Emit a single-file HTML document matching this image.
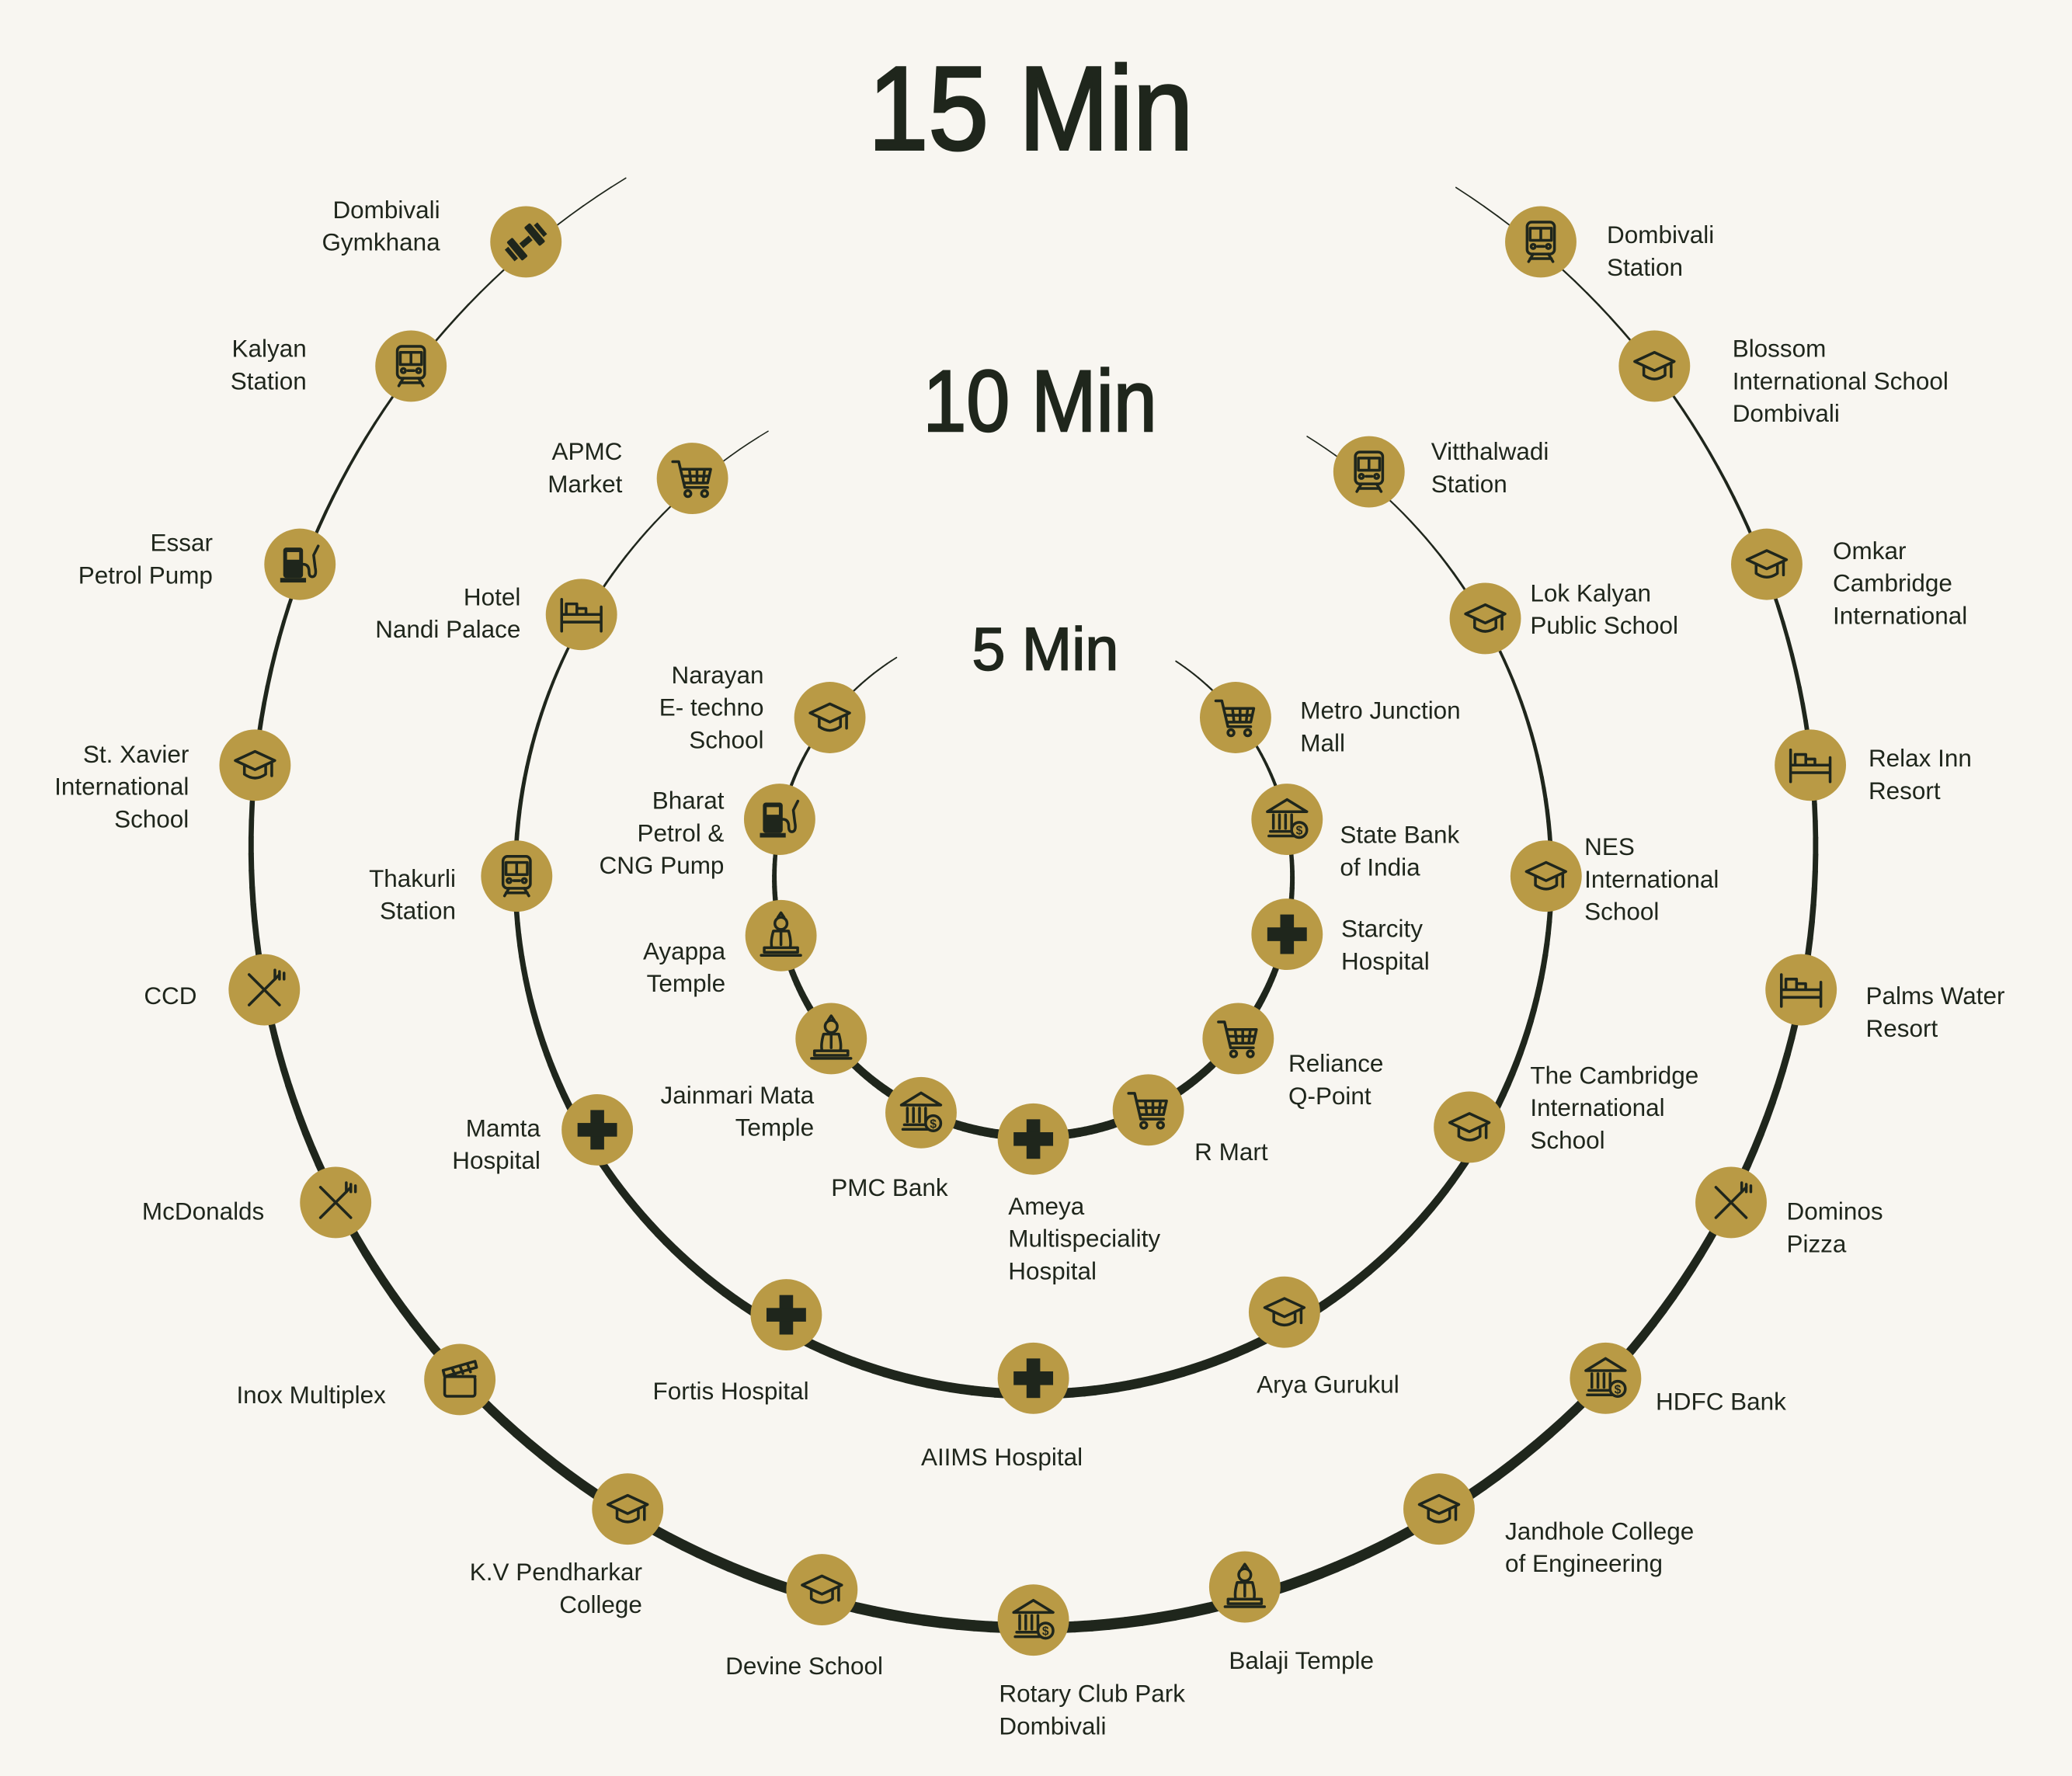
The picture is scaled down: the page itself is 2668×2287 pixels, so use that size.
<!DOCTYPE html>
<html><head><meta charset="utf-8">
<style>
html,body{margin:0;padding:0;background:#f8f6f1;}
svg{display:block;}
text{font-family:"Liberation Sans",sans-serif;fill:#1f261c;}
</style></head>
<body>
<svg id="s" xmlns="http://www.w3.org/2000/svg" width="2668" height="2287" viewBox="0 0 1568 1344">
<rect width="1568" height="1344" fill="#f8f6f1"/>
<g id="arcs"></g>
<g id="nodes"></g>
<g id="labels" font-size="18.5"></g>
<text x="780" y="113" font-size="90" stroke="#1f261c" stroke-width="2" text-anchor="middle" textLength="246" lengthAdjust="spacingAndGlyphs">15 Min</text>
<text x="787" y="326" font-size="66" stroke="#1f261c" stroke-width="1.5" text-anchor="middle" textLength="177" lengthAdjust="spacingAndGlyphs">10 Min</text>
<text x="791" y="507" font-size="46" stroke="#1f261c" stroke-width="1" text-anchor="middle" textLength="111" lengthAdjust="spacingAndGlyphs">5 Min</text>
</svg>
<script>
var NS="http://www.w3.org/2000/svg";
var D="#1f261c",G="#b99a45";
function el(t,a,p){var e=document.createElementNS(NS,t);for(var k in a)e.setAttribute(k,a[k]);(p||document.getElementById('s')).appendChild(e);return e;}
var arcs=document.getElementById('arcs');
function ring(cx,cy,r,a0,a1,wmin,wmax){
  var n=240;
  for(var i=0;i<n;i++){
    var t0=a0+(a1-a0)*i/n,t1=a0+(a1-a0)*(i+1)/n,tm=(t0+t1)/2;
    var f=(1+Math.sin(tm))/2; f=Math.pow(f,1.2);
    var w=wmin+(wmax-wmin)*f;
    el('line',{x1:cx+r*Math.cos(t0),y1:cy+r*Math.sin(t0),x2:cx+r*Math.cos(t1),y2:cy+r*Math.sin(t1),stroke:D,'stroke-width':w.toFixed(2),'stroke-linecap':'round'},arcs);
  }
}
var d2r=Math.PI/180;
ring(782,640,592,-57.3*d2r,238.6*d2r,0.6,8.5);
ring(782,663,392,-58.1*d2r,239.2*d2r,0.6,7.5);
ring(782,664,196,-56.6*d2r,238.1*d2r,0.8,7);

var nodesG=document.getElementById('nodes');
var S='fill="none" stroke="'+D+'" stroke-width="1.8" stroke-linejoin="round" stroke-linecap="round"';
var ICON={
cross:'<rect x="-4.5" y="-13" width="9" height="26" fill="'+D+'"/><rect x="-13" y="-4.5" width="26" height="9" fill="'+D+'"/>',
cart:'<path '+S+' d="M-13,-11 L-9,-11 L-5,6 L10,6 M-7,-6 L12,-6 L10,3 L-5,3 M-2,-6 L-1,3 M3,-6 L3,3 M8,-6 L7,3 M-6,-1.5 L11,-1.5"/><circle cx="-3" cy="10" r="2" '+S+'/><circle cx="8" cy="10" r="2" '+S+'/>',
cap:'<path '+S+' d="M-13,-3 L0,-9 L13,-3 L0,3 Z M-7,0 L-7,6 Q0,11 7,6 L7,0 M11,-2 L11,7"/>',
train:'<rect x="-9" y="-13" width="18" height="21" rx="3" '+S+'/><path '+S+' d="M-7,-9 L7,-9 L7,-1 L-7,-1 Z M0,-9 L0,-1 M-2,3 L2,3 M-8,13 L-5,8 M8,13 L5,8 M-7,11 L7,11"/><circle cx="-5" cy="3" r="1.4" '+S+'/><circle cx="5" cy="3" r="1.4" '+S+'/>',
bank:'<path '+S+' d="M-13,-5 L0,-13 L13,-5 Z M-12,11 L6,11 M-11,8 L5,8 M-9,-3 L-9,6 M-5,-3 L-5,6 M-1,-3 L-1,6 M3,-3 L3,6"/><circle cx="8" cy="7" r="5" fill="'+G+'" '+S+'/><text x="8" y="10" font-size="8" text-anchor="middle" font-weight="bold">$</text>',
bed:'<path '+S+' stroke-width="2.2" d="M-13,-10 L-13,11 M13,-5 L13,11 M-13,5 L13,5 M-13,0 L13,0 M-10,0 L-10,-7 L-3,-7 L-3,0 M-3,-4 L3,-4 L3,0"/>',
food:'<path '+S+' stroke-width="3" d="M-10,-10 L10,10 M10,-10 L-10,10"/><path '+S+' d="M7,-13 L7,-7 M10,-12 L10,-7 M13,-11 L13,-7"/>',
pump:'<rect x="-11" y="-11" width="13" height="20" rx="2" fill="'+D+'"/><rect x="-8.5" y="-8" width="8" height="5" fill="'+G+'"/><rect x="-13" y="9" width="17" height="3" fill="'+D+'"/><path '+S+' d="M2,0 Q6,0 6,5 Q6,9 9,8 Q11,7 10,2 L9,-6 L12,-12"/>',
temple:'<circle cx="0" cy="-8" r="4" '+S+'/><path '+S+' d="M-2,-12 L0,-15 L2,-12 M-5,-3 Q-7,4 -6,8 L6,8 Q7,4 5,-3 Z M-11,8 L11,8 L11,11 L-11,11 Z M-13,13 L13,13 M0,-3 L0,6"/>',
gym:'<g transform="rotate(-40)"><rect x="-4" y="-2" width="8" height="4" fill="'+D+'"/><rect x="-10" y="-8" width="5" height="16" rx="1" fill="'+D+'"/><rect x="5" y="-8" width="5" height="16" rx="1" fill="'+D+'"/><rect x="-14" y="-5" width="3" height="10" fill="'+D+'"/><rect x="11" y="-5" width="3" height="10" fill="'+D+'"/></g>',
clap:'<rect x="-10" y="-2" width="20" height="13" rx="1.5" '+S+'/><path '+S+' d="M-10,-2 L10,-2 M-11,-6 L10,-12 L11,-8 L-10,-2 Z M-5,-7 L-3,-3 M0,-9 L2,-4 M5,-10 L7,-5"/>'
};
var N=[
[398,183,'gym'],[311,277,'train'],[227,427,'pump'],[193,579,'cap'],[200,749,'food'],[254,910,'food'],[348,1044,'clap'],[475,1142,'cap'],[622,1203,'cap'],[782,1226,'bank'],[942,1201,'temple'],[1089,1142,'cap'],[1215,1043,'bank'],[1310,910,'food'],[1363,749,'bed'],[1370,579,'bed'],[1337,427,'cap'],[1252,277,'cap'],[1166,183,'train'],
[524,362,'cart'],[440,465,'bed'],[391,663,'train'],[452,855,'cross'],[595,995,'cross'],[782,1043,'cross'],[972,993,'cap'],[1112,853,'cap'],[1170,663,'cap'],[1124,468,'cap'],[1036,357,'train'],
[628,543,'cap'],[590,620,'pump'],[591,708,'temple'],[629,786,'temple'],[697,842,'bank'],[782,862,'cross'],[869,840,'cart'],[937,786,'cart'],[974,707,'cross'],[974,620,'bank'],[935,543,'cart']
];
var h='';
N.forEach(function(n){h+='<g transform="translate('+n[0]+','+n[1]+')"><circle r="27" fill="'+G+'"/><g transform="scale(1.15)">'+ICON[n[2]]+'</g></g>';});
nodesG.innerHTML=h;

var L=[
[333,165,'end',['Dombivali','Gymkhana']],
[232,270,'end',['Kalyan','Station']],
[161,417,'end',['Essar','Petrol Pump']],
[143,577,'end',['St. Xavier','International','School']],
[149,760,'end',['CCD']],
[200,923,'end',['McDonalds']],
[292,1062,'end',['Inox Multiplex']],
[486,1196,'end',['K.V Pendharkar','College']],
[549,1267,'start',['Devine School']],
[756,1288,'start',['Rotary Club Park','Dombivali']],
[930,1263,'start',['Balaji Temple']],
[1139,1165,'start',['Jandhole College','of Engineering']],
[1253,1067,'start',['HDFC Bank']],
[1352,923,'start',['Dominos','Pizza']],
[1412,760,'start',['Palms Water','Resort']],
[1414,580,'start',['Relax Inn','Resort']],
[1387,423,'start',['Omkar','Cambridge','International']],
[1311,270,'start',['Blossom','International School','Dombivali']],
[1216,184,'start',['Dombivali','Station']],
[471,348,'end',['APMC','Market']],
[394,458,'end',['Hotel','Nandi Palace']],
[345,671,'end',['Thakurli','Station']],
[409,860,'end',['Mamta','Hospital']],
[494,1059,'start',['Fortis Hospital']],
[697,1109,'start',['AIIMS Hospital']],
[951,1054,'start',['Arya Gurukul']],
[1158,820,'start',['The Cambridge','International','School']],
[1199,647,'start',['NES','International','School']],
[1158,455,'start',['Lok Kalyan','Public School']],
[1083,348,'start',['Vitthalwadi','Station']],
[578,517,'end',['Narayan','E- techno','School']],
[548,612,'end',['Bharat','Petrol &amp;','CNG Pump']],
[549,726,'end',['Ayappa','Temple']],
[616,835,'end',['Jainmari Mata','Temple']],
[629,905,'start',['PMC Bank']],
[763,919,'start',['Ameya','Multispeciality','Hospital']],
[904,878,'start',['R Mart']],
[975,811,'start',['Reliance','Q-Point']],
[1015,709,'start',['Starcity','Hospital']],
[1014,638,'start',['State Bank','of India']],
[984,544,'start',['Metro Junction','Mall']]
];
var t='';
L.forEach(function(l){l[3].forEach(function(s,i){t+='<text x="'+l[0]+'" y="'+(l[1]+i*24.6)+'" text-anchor="'+l[2]+'">'+s+'</text>';});});
document.getElementById('labels').innerHTML=t;
</script>
</body></html>
